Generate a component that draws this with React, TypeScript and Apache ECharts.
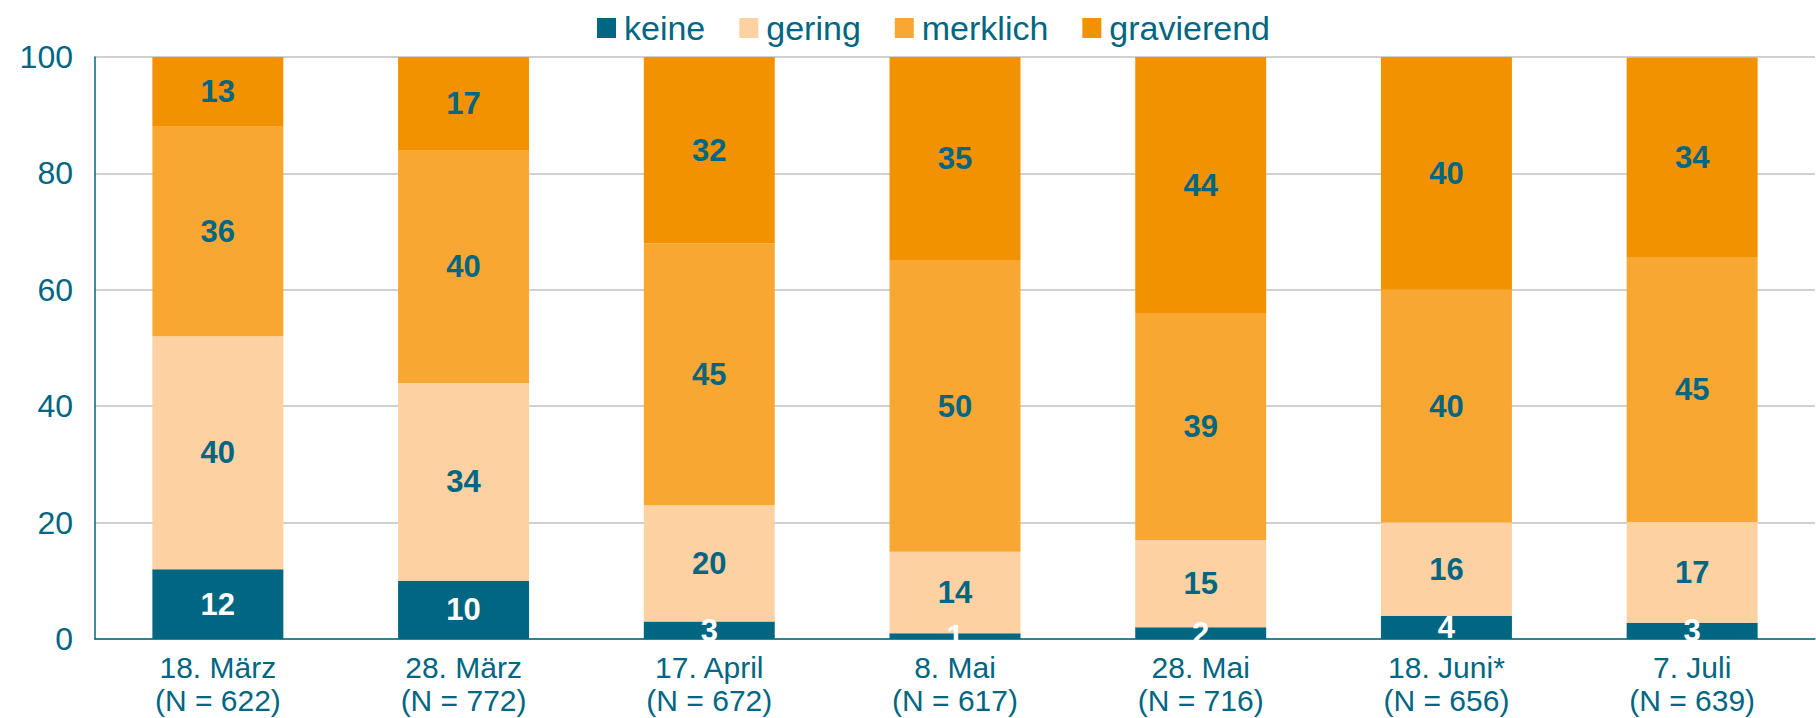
import React, { useEffect, useRef } from "react";
import * as echarts from "echarts";

const categories = [
  "18. März\n(N = 622)",
  "28. März\n(N = 772)",
  "17. April\n(N = 672)",
  "8. Mai\n(N = 617)",
  "28. Mai\n(N = 716)",
  "18. Juni*\n(N = 656)",
  "7. Juli\n(N = 639)",
];
const seriesNames = ["keine", "gering", "merklich", "gravierend"];
const keine = [12, 10, 3, 1, 2, 4, 2.8];
const gering = [40, 34, 20, 14, 15, 16, 17.3];
const merklich = [36, 40, 45, 50, 39, 40, 45.4];
const gravierend = [13, 17, 32, 35, 44, 40, 34.4];
const yTicks = { min: 0, max: 100, interval: 20 };

const TEAL = "#006682";
const COLORS = ["#006682", "#FDD1A2", "#F8A733", "#F39200"];
const FONT = "'Liberation Sans', Arial, sans-serif";

export default function App() {
  const ref = useRef<HTMLDivElement>(null);
  useEffect(() => {
    document.body.style.margin = "0";
    if (!ref.current) return;
    const chart = echarts.init(ref.current, undefined, { renderer: "svg" });
    const data = [keine, gering, merklich, gravierend];
    chart.setOption({
      animation: false,
      textStyle: { fontFamily: FONT },
      legend: {
        data: seriesNames,
        left: 592,
        top: 6,
        itemWidth: 19,
        itemHeight: 20,
        itemGap: 34,
        icon: "rect",
        textStyle: { color: TEAL, fontSize: 34, fontFamily: FONT, padding: [0, 0, 0, 3] },
      },
      grid: { left: 95, right: 1, top: 57, bottom: 79, containLabel: false },
      xAxis: {
        type: "category",
        data: categories,
        axisTick: { show: false },
        axisLine: { lineStyle: { color: TEAL, width: 1.5 } },
        axisLabel: { color: TEAL, fontSize: 30, lineHeight: 33, margin: 12, fontFamily: FONT },
      },
      yAxis: {
        type: "value",
        min: yTicks.min,
        max: yTicks.max,
        interval: yTicks.interval,
        axisLine: { show: true, lineStyle: { color: TEAL, width: 1.5 } },
        axisTick: { show: false },
        splitLine: { lineStyle: { color: "#C0C0C0", width: 1.5 } },
        axisLabel: { color: TEAL, fontSize: 32, margin: 22, fontFamily: FONT },
      },
      series: seriesNames.map((name, i) => ({
        name,
        type: "bar",
        stack: "total",
        barWidth: "53.3%",
        clip: true,
        data: data[i],
        itemStyle: { color: COLORS[i] },
        label: {
          show: true,
          position: "inside",
          formatter: (p: any) => String(Math.round(p.value)),
          color: i === 0 ? "#FFFFFF" : TEAL,
          fontSize: 31,
          fontWeight: "bold",
          fontFamily: FONT,
        },
      })),
    });
    return () => chart.dispose();
  }, []);
  return <div ref={ref} style={{ width: 1816, height: 718 }} />;
}
